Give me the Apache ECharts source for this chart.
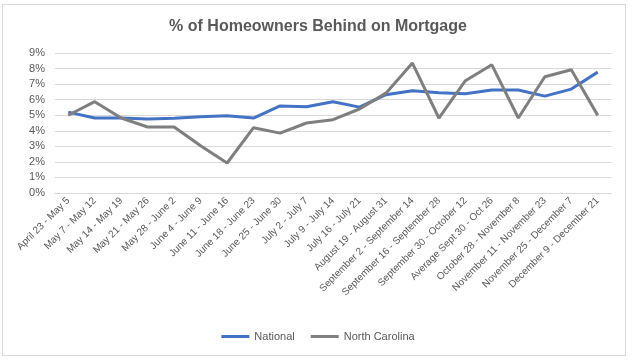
<!DOCTYPE html>
<html><head><meta charset="utf-8">
<script src="https://cdn.jsdelivr.net/npm/echarts@6/dist/echarts.min.js"></script>
<style>html,body{margin:0;padding:0;background:#fff}#c{width:636px;height:362px}
#frame{position:absolute;left:2px;top:4px;width:624px;height:352px;border:1px solid #d9d9d9;box-sizing:border-box;pointer-events:none}</style>
</head><body><div id="c"></div><div id="frame"></div>
<script>
const categories = ["April 23 - May 5","May 7 - May 12","May 14 - May 19","May 21 - May 26","May 28 - June 2","June 4 - June 9","June 11 - June 16","June 18 - June 23","June 25 - June 30","July 2 - July 7","July 9 - July 14","July 16 - July 21","August 19 - August 31","September 2 - September 14","September 16 - September 28","September 30 - October 12","Average Sept 30 - Oct 26","October 28 - November 8","November 11 - November 23","November 25 - December 7","December 9 - December 21"];
const national = [5.2,4.82,4.82,4.75,4.8,4.9,4.97,4.82,5.6,5.54,5.87,5.52,6.32,6.57,6.45,6.38,6.62,6.62,6.23,6.68,7.77];
const northCarolina = [5.0,5.87,4.82,4.24,4.24,3.04,1.93,4.2,3.85,4.5,4.71,5.4,6.42,8.35,4.82,7.22,8.24,4.82,7.47,7.92,4.99];
const seriesNames = ["National","North Carolina"];
const chartTitle = "% of Homeowners Behind on Mortgage";

const chart = echarts.init(document.getElementById('c'));
const font = "Liberation Sans";
chart.setOption({
  animation:false,
  backgroundColor:'#fff',
  title:{text:chartTitle,left:'center',top:14,textStyle:{fontFamily:font,fontWeight:'bold',fontSize:16,color:'#595959'}},
  legend:{bottom:15,left:'center',itemWidth:28,itemHeight:3,itemGap:16,icon:'rect',
    textStyle:{fontFamily:font,fontSize:11,color:'#595959'},data:seriesNames},
  grid:{left:55,right:25,top:53,bottom:169,containLabel:false},
  xAxis:{type:'category',data:categories,boundaryGap:true,
    axisLine:{lineStyle:{color:'#d9d9d9'}},axisTick:{show:false},
    axisLabel:{rotate:45,interval:0,fontFamily:font,fontSize:10,color:'#595959',margin:6}},
  yAxis:{type:'value',min:0,max:9,interval:1,
    axisLabel:{formatter:v=>v+'%',fontFamily:font,fontSize:11,color:'#595959',margin:10},
    splitLine:{lineStyle:{color:'#d9d9d9'}},axisLine:{show:false},axisTick:{show:false}},
  series:[
    {name:seriesNames[0],type:'line',data:national,symbol:'none',lineStyle:{color:'#4472c4',width:3},itemStyle:{color:'#4472c4'}},
    {name:seriesNames[1],type:'line',data:northCarolina,symbol:'none',lineStyle:{color:'#7f7f7f',width:3},itemStyle:{color:'#7f7f7f'}}
  ]
});
</script></body></html>
